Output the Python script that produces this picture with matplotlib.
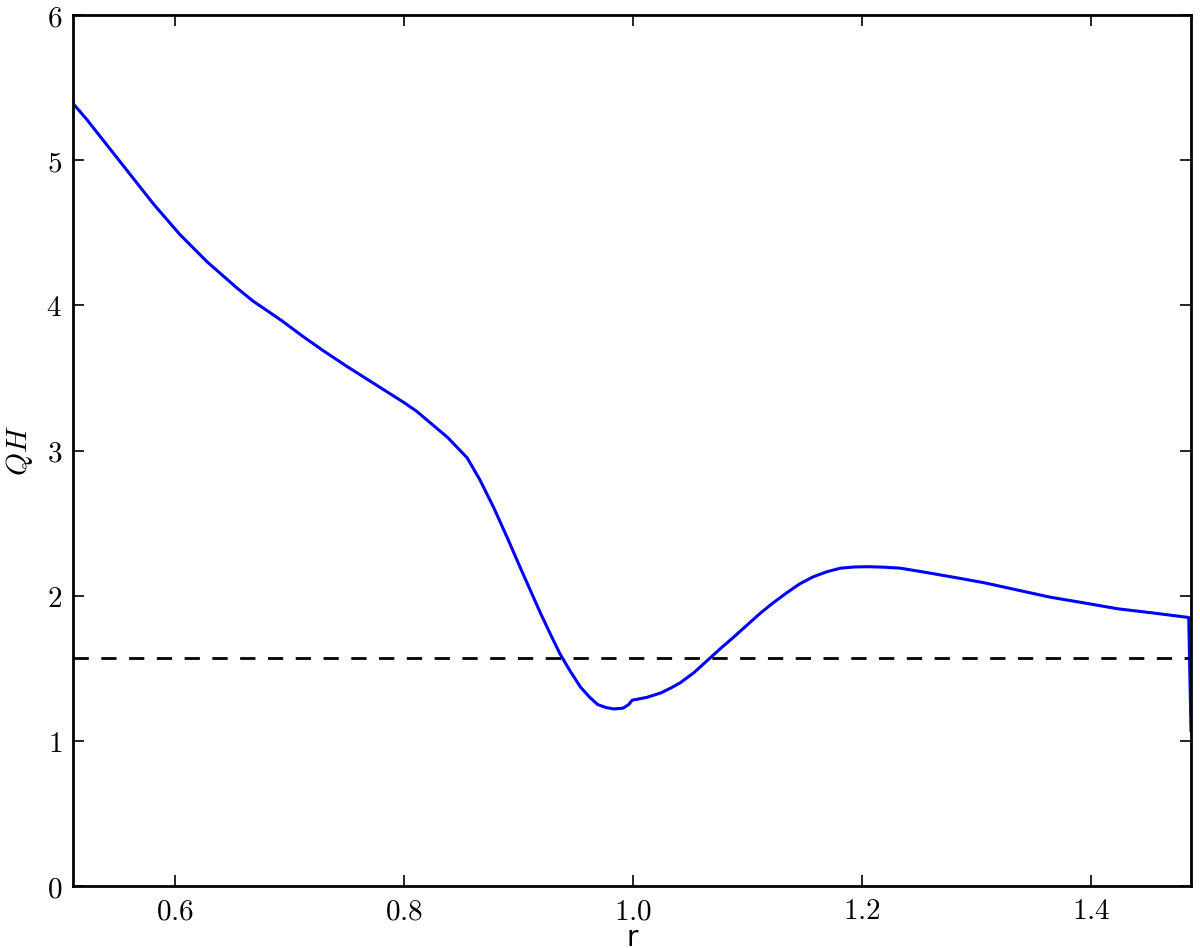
import matplotlib
matplotlib.use("Agg")
import matplotlib.pyplot as plt
from matplotlib.ticker import FuncFormatter, FixedLocator

plt.rcParams['mathtext.fontset'] = 'cm'

r_vals = [0.511, 0.523, 0.535, 0.555, 0.568, 0.581, 0.604, 0.628, 0.654, 0.668, 0.683,
          0.694, 0.711, 0.729, 0.750, 0.770, 0.790, 0.800, 0.811, 0.820,
          0.838, 0.855, 0.866, 0.878, 0.890, 0.901, 0.910, 0.919, 0.928, 0.936, 0.945,
          0.954, 0.962, 0.969, 0.976, 0.983, 0.991, 0.996, 0.999, 1.012, 1.024, 1.033,
          1.041, 1.053, 1.065, 1.076, 1.087, 1.099, 1.111, 1.122, 1.134, 1.145, 1.157,
          1.169, 1.181, 1.193, 1.204, 1.218, 1.233, 1.256, 1.285, 1.306, 1.335, 1.364,
          1.394, 1.423, 1.455, 1.485, 1.487]
qh_vals = [5.39, 5.28, 5.16, 4.96, 4.83, 4.70, 4.49, 4.30, 4.12, 4.03, 3.95,
           3.89, 3.79, 3.69, 3.58, 3.48, 3.38, 3.33, 3.27, 3.21,
           3.09, 2.95, 2.80, 2.61, 2.40, 2.20, 2.04, 1.88, 1.73, 1.60, 1.48,
           1.37, 1.30, 1.25, 1.23, 1.22, 1.225, 1.25, 1.28, 1.30, 1.33, 1.365,
           1.40, 1.47, 1.556, 1.635, 1.71, 1.795, 1.88, 1.95, 2.02, 2.08, 2.13,
           2.165, 2.19, 2.198, 2.20, 2.197, 2.19, 2.16, 2.12, 2.09, 2.04, 1.99,
           1.95, 1.91, 1.88, 1.85, 1.07]
threshold = 1.57

x_ticks = [0.6, 0.8, 1.0, 1.2, 1.4]
y_ticks = [0, 1, 2, 3, 4, 5, 6]

fig = plt.figure(figsize=(12, 9.48), dpi=100)
ax = fig.add_axes([0.061, 0.0654, 0.9315, 0.9186])

ax.plot(r_vals, qh_vals, color='#0000ff', lw=2.2)
ax.axhline(threshold, color='black', lw=2.0, linestyle=(0, (5.5, 4.5)))

ax.set_xlim(0.511, 1.487)
ax.set_ylim(0, 6)
ax.xaxis.set_major_locator(FixedLocator(x_ticks))
ax.yaxis.set_major_locator(FixedLocator(y_ticks))
ax.xaxis.set_major_formatter(FuncFormatter(lambda v, p: r'$%.1f$' % v))
ax.yaxis.set_major_formatter(FuncFormatter(lambda v, p: r'$%d$' % round(v)))

ax.tick_params(direction='in', length=8, width=1.2, top=True, right=True,
               labelsize=21, pad=8)
for s in ax.spines.values():
    s.set_linewidth(2.0)

ax.set_xlabel('r', fontsize=20, labelpad=-1)
ax.set_ylabel(r'$QH$', fontsize=21, labelpad=8)

fig.savefig('out.png', dpi=100)
